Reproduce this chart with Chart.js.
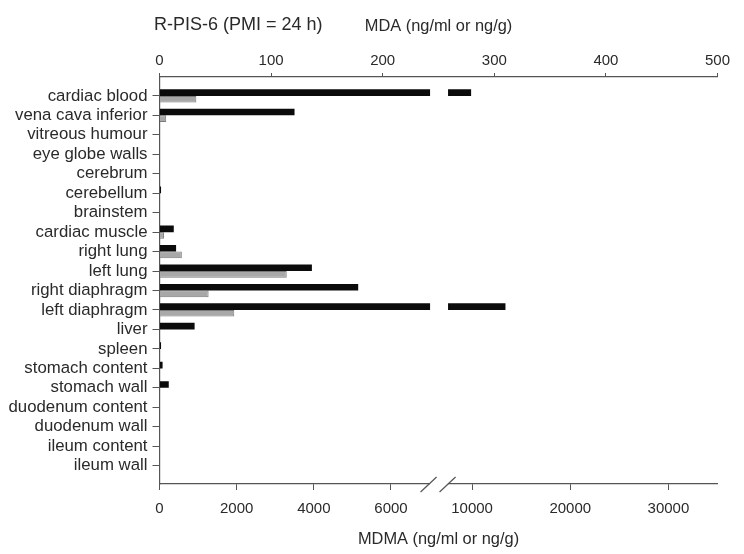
<!DOCTYPE html>
<html>
<head>
<meta charset="utf-8">
<style>
  html, body { margin: 0; padding: 0; background: #fff; }
</style>
<script src="https://cdn.jsdelivr.net/npm/chart.js@4.4.1/dist/chart.umd.min.js"></script>
</head>
<body>
<canvas id="myChart" width="744" height="554"></canvas>
<script>
'use strict';

const headerText = 'R-PIS-6 (PMI = 24 h)';
const organs = [
  'cardiac blood', 'vena cava inferior', 'vitreous humour', 'eye globe walls',
  'cerebrum', 'cerebellum', 'brainstem', 'cardiac muscle', 'right lung',
  'left lung', 'right diaphragm', 'left diaphragm', 'liver', 'spleen',
  'stomach content', 'stomach wall', 'duodenum content', 'duodenum wall',
  'ileum content', 'ileum wall'
];
const mdmaValues = [9900, 3500, 0, 0, 0, 40, 0, 370, 430, 3950, 5150, 13400, 910, 40, 80, 240, 0, 0, 0, 0];
const mdaValues  = [33, 6, 0, 0, 0, 0, 0, 4, 20, 114, 44, 67, 0, 0, 0, 0, 0, 0, 0, 0];
const mdmaTicks = [0, 2000, 4000, 6000, 10000, 20000, 30000];
const mdaTicks = [0, 100, 200, 300, 400, 500];

// bottom axis is broken: 0-7000 on the left part, 7600-35000 on the right part
const breakLo = 7000, breakHi = 7600, mdmaMax = 35000;
const fracLo = 0.484, fracHi = 0.518;

function brokenDecimal(v) {
  if (v <= breakLo) return v / breakLo * fracLo;
  if (v >= breakHi) return fracHi + (v - breakHi) / (mdmaMax - breakHi) * (1 - fracHi);
  return fracLo + (v - breakLo) / (breakHi - breakLo) * (fracHi - fracLo);
}
function brokenValue(d) {
  if (d <= fracLo) return d / fracLo * breakLo;
  if (d >= fracHi) return breakHi + (d - fracHi) / (1 - fracHi) * (mdmaMax - breakHi);
  return breakLo + (d - fracLo) / (fracHi - fracLo) * (breakHi - breakLo);
}

class BrokenScale extends Chart.LinearScale {
  buildTicks() {
    super.buildTicks();
    return mdmaTicks.map(v => ({ value: v }));
  }
  getPixelForValue(v) {
    if (v === null || isNaN(v)) return NaN;
    return this.getPixelForDecimal(brokenDecimal(v));
  }
  getValueForPixel(p) {
    return brokenValue(this.getDecimalForPixel(p));
  }
}
BrokenScale.id = 'broken';
BrokenScale.defaults = Chart.LinearScale.defaults;
Chart.register(BrokenScale);

const axisColor = '#555';
const textColor = '#2a2a2a';
const fontName = '"Liberation Sans", Arial, sans-serif';

const breakPlugin = {
  id: 'axisBreak',
  afterDatasetsDraw(chart) {
    const ctx = chart.ctx, area = chart.chartArea;
    const sx = chart.scales.x;
    const x1 = sx.getPixelForDecimal(fracLo);
    const x2 = sx.getPixelForDecimal(fracHi);
    ctx.save();
    ctx.fillStyle = '#fff';
    ctx.fillRect(x1 + 0.5, area.top + 1, x2 - x1 - 1, area.bottom - area.top + 3);
    ctx.strokeStyle = axisColor;
    ctx.lineWidth = 1.2;
    [x1 - 1, x2 - 1].forEach(x => {
      ctx.beginPath();
      ctx.moveTo(x - 8, area.bottom + 8);
      ctx.lineTo(x + 8, area.bottom - 7);
      ctx.stroke();
    });
    // header text
    ctx.fillStyle = textColor;
    ctx.font = '18px ' + fontName;
    ctx.textBaseline = 'middle';
    ctx.textAlign = 'left';
    ctx.fillText(headerText, 154, 25);
    ctx.restore();
  }
};

const tickFont = { family: fontName, size: 15 };
const titleFont = { family: fontName, size: 16.4 };

new Chart(document.getElementById('myChart'), {
  type: 'bar',
  data: {
    datasets: [
      {
        label: 'MDMA',
        data: mdmaValues.map((v, i) => ({ x: v, y: i })),
        xAxisID: 'x',
        yAxisID: 'y',
        backgroundColor: '#0b0b0b',
        categoryPercentage: 0.68,
        barPercentage: 1
      },
      {
        label: 'MDA',
        data: mdaValues.map((v, i) => ({ x: v, y: i })),
        xAxisID: 'x2',
        yAxisID: 'y',
        backgroundColor: '#a8a8a8',
        borderColor: '#7a7a7a',
        borderWidth: 1,
        categoryPercentage: 0.68,
        barPercentage: 1
      }
    ]
  },
  options: {
    indexAxis: 'y',
    responsive: false,
    animation: false,
    layout: { padding: { left: 0, right: 26.5, top: 0, bottom: 0 } },
    plugins: {
      legend: { display: false },
      tooltip: { enabled: false }
    },
    scales: {
      y: {
        type: 'linear',
        reverse: true,
        offset: false,
        min: -0.97,
        max: 19.94,
        afterBuildTicks: s => { s.ticks = organs.map((_, i) => ({ value: i })); },
        afterFit: s => { s.width = 159.5; },
        ticks: {
          callback: v => organs[v],
          autoSkip: false,
          padding: 5,
          color: textColor,
          font: { family: fontName, size: 16.8 }
        },
        grid: { offset: false, drawOnChartArea: false, tickLength: 7, color: axisColor },
        border: { color: axisColor, width: 1.2 }
      },
      x: {
        type: 'broken',
        position: 'bottom',
        min: 0,
        max: mdmaMax,
        afterFit: s => { s.height = 70; },
        ticks: {
          callback: v => String(v),
          autoSkip: false,
          maxRotation: 0,
          padding: 10,
          color: textColor,
          font: tickFont
        },
        grid: { drawOnChartArea: false, tickLength: 6, color: axisColor },
        border: { color: axisColor, width: 1.2 },
        title: {
          display: true,
          text: 'MDMA (ng/ml or ng/g)',
          color: textColor,
          font: titleFont,
          padding: { top: 0, bottom: 5 }
        }
      },
      x2: {
        type: 'linear',
        position: 'top',
        min: 0,
        max: 500,
        afterBuildTicks: s => { s.ticks = mdaTicks.map(v => ({ value: v })); },
        afterFit: s => { s.height = 77; },
        ticks: {
          callback: v => String(v),
          autoSkip: false,
          maxRotation: 0,
          padding: 3,
          color: textColor,
          font: tickFont
        },
        grid: { drawOnChartArea: false, tickLength: 4, color: axisColor },
        border: { color: axisColor, width: 1.2 },
        title: {
          display: true,
          text: 'MDA (ng/ml or ng/g)',
          color: textColor,
          font: titleFont,
          padding: { top: 17, bottom: 0 }
        }
      }
    }
  },
  plugins: [breakPlugin]
});
</script>
</body>
</html>
